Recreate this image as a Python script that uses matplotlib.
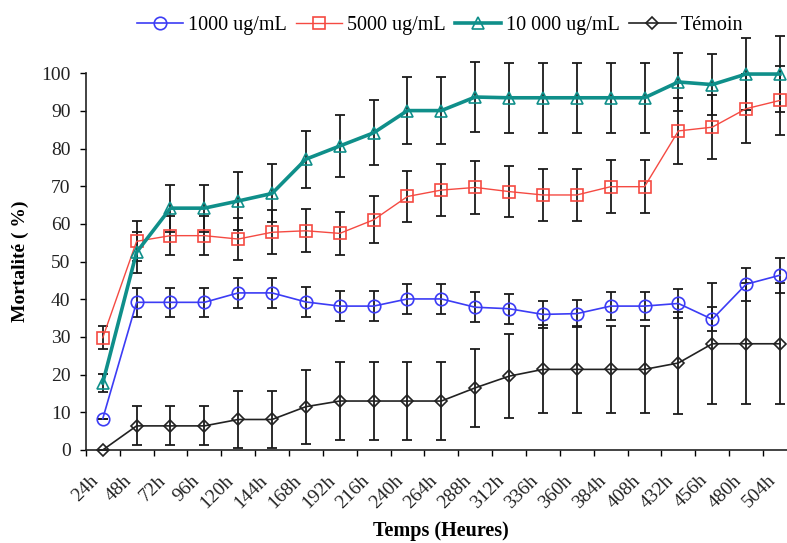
import matplotlib
matplotlib.use("Agg")
import matplotlib.pyplot as plt
import matplotlib.transforms as mtransforms
import numpy as np

hours = ["24h", "48h", "72h", "96h", "120h", "144h", "168h", "192h", "216h", "240h",
         "264h", "288h", "312h", "336h", "360h", "384h", "408h", "432h", "456h", "480h", "504h"]

mort_1000 = [8.3, 39.2, 39.2, 39.2, 41.7, 41.7, 39.3, 38.2, 38.2, 40.1, 40.1, 37.9, 37.5,
             36.0, 36.2, 38.2, 38.2, 38.9, 34.7, 44.0, 46.4]
err_1000 = [0.0, 3.8, 3.8, 3.8, 4.0, 4.0, 4.0, 4.0, 4.0, 4.0, 4.0, 4.0, 4.0,
            3.6, 3.6, 3.8, 3.8, 3.8, 3.2, 4.4, 4.6]

mort_5000 = [29.8, 55.4, 56.9, 56.9, 56.0, 57.8, 58.2, 57.5, 61.1, 67.3, 69.0, 69.7, 68.6,
             67.7, 67.7, 69.9, 69.9, 84.7, 85.7, 90.6, 92.8]
err_5000 = [3.0, 5.3, 5.1, 5.1, 5.5, 5.8, 5.7, 5.7, 6.2, 6.7, 6.8, 7.0, 6.8,
            6.9, 6.9, 7.0, 7.0, 8.7, 8.5, 9.1, 9.2]

mort_10000 = [17.8, 52.5, 64.2, 64.2, 66.1, 68.1, 77.2, 80.7, 84.2, 90.1, 90.1, 93.7, 93.5,
              93.5, 93.5, 93.5, 93.5, 97.7, 97.0, 99.8, 99.8]
err_10000 = [2.3, 5.5, 6.2, 6.2, 7.8, 7.7, 7.6, 8.2, 8.6, 9.0, 9.0, 9.3, 9.3,
             9.3, 9.3, 9.3, 9.3, 7.6, 8.0, 9.5, 10.0]

mort_temoin = [0.0, 6.4, 6.4, 6.4, 8.1, 8.1, 11.5, 13.0, 13.0, 13.0, 13.0, 16.5, 19.6,
               21.4, 21.4, 21.4, 21.4, 23.1, 28.2, 28.2, 28.2]
err_temoin = [0.0, 5.2, 5.2, 5.2, 7.5, 7.5, 9.8, 10.3, 10.3, 10.3, 10.3, 10.4, 11.2,
              11.7, 11.6, 11.6, 11.6, 13.6, 16.0, 16.0, 16.0]

series = [
    ("1000 ug/mL", mort_1000, err_1000, "#3c3cf5", "o", 1.2, 9),
    ("5000 ug/mL", mort_5000, err_5000, "#f54a42", "s", 1.0, 9),
    ("10 000 ug/mL", mort_10000, err_10000, "#0f8f8a", "^", 2.6, 9),
    ("Témoin", mort_temoin, err_temoin, "#222222", "D", 1.2, 6.5),
]

plt.rcParams['font.family'] = ['Liberation Serif', 'DejaVu Serif']

W, H = 787, 543
fig = plt.figure(figsize=(W / 100, H / 100), dpi=100)
left_px, right_px, bottom_px, top_px = 85.8, 796.9, 450, 73.3
ax = fig.add_axes([left_px / W, (H - bottom_px) / H,
                   (right_px - left_px) / W, (bottom_px - top_px) / H])

x = np.arange(len(hours))
handles = []
for label, vals, errs, color, marker, lw, ms in series:
    eb = ax.errorbar(x, vals, yerr=errs, fmt='none', ecolor='#1a1a1a',
                     elinewidth=1.3, capsize=3.6, capthick=1.3, zorder=2)
    for art in list(eb.lines[1]) + list(eb.lines[2]):
        art.set_clip_on(False)
    ln, = ax.plot(x, vals, color=color, lw=lw, marker=marker, ms=ms,
                  markerfacecolor='none', markeredgecolor=color, markeredgewidth=1.2,
                  zorder=3, clip_on=False, label=label)
    handles.append(ln)

ax.set_xlim(-0.5, len(hours) - 0.5)
ax.set_ylim(0, 100)
ax.set_yticks(np.arange(0, 101, 10))
ax.tick_params(axis='y', direction='out', length=4, width=1, pad=7, labelsize=14,
               labelcolor='#222222')

# x ticks at category boundaries, labels at category centers
ax.set_xticks(np.arange(-0.5, len(hours), 1.0))
ax.set_xticklabels([])
ax.tick_params(axis='x', which='major', direction='out', length=4, width=1)
ax.set_xticks(x, minor=True)
ax.set_xticklabels(hours, minor=True, rotation=45, ha='right', va='center',
                   rotation_mode='anchor', fontsize=14, color='#222222')
ax.tick_params(axis='x', which='minor', length=0, pad=20)
offset = mtransforms.ScaledTranslation(-7 / 100, 0, fig.dpi_scale_trans)
for lbl in ax.get_xticklabels(minor=True):
    lbl.set_transform(lbl.get_transform() + offset)

for s in ['top', 'right']:
    ax.spines[s].set_visible(False)
for s in ['left', 'bottom']:
    ax.spines[s].set_linewidth(1.2)
    ax.spines[s].set_color('#222222')

ax.set_ylabel("Mortalité ( %)", fontsize=14, fontweight='bold')
ax.yaxis.set_label_coords((29 - left_px) / (right_px - left_px), 0.5)
ax.set_xlabel("Temps (Heures)", fontsize=14.5, fontweight='bold', va='center')
ax.xaxis.set_label_coords((441 - left_px) / (right_px - left_px),
                          -(531 - bottom_px) / (bottom_px - top_px))

fig.legend(handles=handles, loc='center', bbox_to_anchor=(440 / W, 1 - 25.7 / H),
           ncol=4, frameon=False, fontsize=14.5, handlelength=2.3,
           handletextpad=0.25, columnspacing=0.45, borderaxespad=0)

fig.savefig("out.png", dpi=100)
